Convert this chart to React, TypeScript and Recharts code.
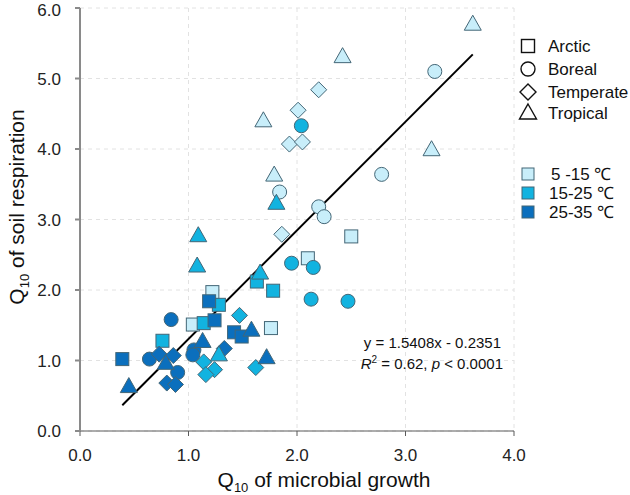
import React from 'react';
import { ScatterChart, Scatter, XAxis, YAxis, CartesianGrid, ReferenceLine } from 'recharts';

type Band = 'low' | 'mid' | 'high';
interface Pt { x: number; y: number; t: Band }

// temperature bands
const bandLabels = ['5 -15 ℃', '15-25 ℃', '25-35 ℃'];
const bandKeys: Band[] = ['low', 'mid', 'high'];
const bandColors: Record<Band, string> = { low: '#c8eefa', mid: '#12b3e0', high: '#0b6fbd' };

const regionLabels = ['Arctic', 'Boreal', 'Temperate', 'Tropical'];

const arctic: Pt[] = [
  { x: 0.39, y: 1.02, t: 'high' }, { x: 0.76, y: 1.28, t: 'mid' }, { x: 1.04, y: 1.51, t: 'low' },
  { x: 1.14, y: 1.53, t: 'mid' }, { x: 1.24, y: 1.57, t: 'high' }, { x: 1.22, y: 1.97, t: 'low' },
  { x: 1.19, y: 1.84, t: 'high' }, { x: 1.28, y: 1.79, t: 'mid' }, { x: 1.42, y: 1.40, t: 'high' },
  { x: 1.49, y: 1.34, t: 'high' }, { x: 1.76, y: 1.46, t: 'low' }, { x: 1.63, y: 2.12, t: 'mid' },
  { x: 1.78, y: 1.99, t: 'mid' }, { x: 2.10, y: 2.45, t: 'low' }, { x: 2.50, y: 2.76, t: 'low' },
];

const boreal: Pt[] = [
  { x: 0.64, y: 1.02, t: 'high' }, { x: 0.84, y: 1.58, t: 'high' }, { x: 0.90, y: 0.83, t: 'high' },
  { x: 1.05, y: 1.15, t: 'high' }, { x: 1.04, y: 1.08, t: 'high' }, { x: 1.95, y: 2.38, t: 'mid' },
  { x: 2.15, y: 2.32, t: 'mid' }, { x: 2.13, y: 1.87, t: 'mid' }, { x: 2.47, y: 1.84, t: 'mid' },
  { x: 2.04, y: 4.33, t: 'mid' }, { x: 1.84, y: 3.39, t: 'low' }, { x: 2.20, y: 3.18, t: 'low' },
  { x: 2.25, y: 3.04, t: 'low' }, { x: 2.78, y: 3.64, t: 'low' }, { x: 3.27, y: 5.10, t: 'low' },
];

const temperate: Pt[] = [
  { x: 0.73, y: 1.09, t: 'high' }, { x: 0.86, y: 1.07, t: 'high' }, { x: 0.80, y: 0.68, t: 'high' },
  { x: 0.88, y: 0.66, t: 'high' }, { x: 1.33, y: 1.17, t: 'high' }, { x: 1.14, y: 0.98, t: 'mid' },
  { x: 1.24, y: 0.87, t: 'mid' }, { x: 1.16, y: 0.80, t: 'mid' }, { x: 1.47, y: 1.64, t: 'mid' },
  { x: 1.62, y: 0.90, t: 'mid' }, { x: 1.86, y: 2.79, t: 'low' }, { x: 1.93, y: 4.07, t: 'low' },
  { x: 2.05, y: 4.10, t: 'low' }, { x: 2.01, y: 4.55, t: 'low' }, { x: 2.20, y: 4.84, t: 'low' },
];

const tropical: Pt[] = [
  { x: 0.45, y: 0.63, t: 'high' }, { x: 0.79, y: 0.96, t: 'high' }, { x: 1.13, y: 1.27, t: 'high' },
  { x: 1.58, y: 1.43, t: 'high' }, { x: 1.72, y: 1.04, t: 'high' }, { x: 1.28, y: 1.08, t: 'mid' },
  { x: 1.09, y: 2.77, t: 'mid' }, { x: 1.08, y: 2.34, t: 'mid' }, { x: 1.66, y: 2.24, t: 'mid' },
  { x: 1.81, y: 3.23, t: 'mid' }, { x: 1.69, y: 4.40, t: 'low' }, { x: 1.79, y: 3.63, t: 'low' },
  { x: 2.42, y: 5.31, t: 'low' }, { x: 3.24, y: 3.99, t: 'low' }, { x: 3.62, y: 5.77, t: 'low' },
];

const xTicks = [0, 1, 2, 3, 4];
const yTicks = [0, 1, 2, 3, 4, 5, 6];

// regression y = 1.5408x - 0.2351 over the data range
const slope = 1.5408;
const intercept = -0.2351;
const fitRange = [0.39, 3.62];

type Kind = 'square' | 'circle' | 'diamond' | 'triangle';
const EDGE = '#436676';

function drawMarker(kind: Kind, cx: number, cy: number, fill: string, stroke: string, sw = 1) {
  if (kind === 'square') return <rect x={cx - 6.5} y={cy - 6.5} width={13} height={13} fill={fill} stroke={stroke} strokeWidth={sw} />;
  if (kind === 'circle') return <circle cx={cx} cy={cy} r={7} fill={fill} stroke={stroke} strokeWidth={sw} />;
  if (kind === 'diamond') return <polygon points={`${cx},${cy - 8} ${cx + 8},${cy} ${cx},${cy + 8} ${cx - 8},${cy}`} fill={fill} stroke={stroke} strokeWidth={sw} />;
  return <polygon points={`${cx},${cy - 9} ${cx + 8.5},${cy + 6} ${cx - 8.5},${cy + 6}`} fill={fill} stroke={stroke} strokeWidth={sw} />;
}

const shapeFor = (kind: Kind, fill: string) => (p: any) => (
  <g>{drawMarker(kind, p.cx, p.cy, fill, EDGE)}</g>
);

const regions: { name: string; kind: Kind; data: Pt[] }[] = [
  { name: 'Arctic', kind: 'square', data: arctic },
  { name: 'Boreal', kind: 'circle', data: boreal },
  { name: 'Temperate', kind: 'diamond', data: temperate },
  { name: 'Tropical', kind: 'triangle', data: tropical },
];

const font = '"Liberation Sans", Arial, sans-serif';

export default function App() {
  const kinds: Kind[] = ['square', 'circle', 'diamond', 'triangle'];
  const shapeRowsY = [46, 69, 92, 113];
  const bandRowsY = [174, 193, 212];
  return (
    <div style={{ position: 'absolute', left: 0, top: 0, width: 630, height: 495, background: '#fff', fontFamily: font }}>
      <ScatterChart width={630} height={495} margin={{ top: 8, right: 116, bottom: 34, left: 20 }}>
        <CartesianGrid stroke="#e2e2e2" strokeDasharray="4 4" />
        <XAxis
          type="number"
          dataKey="x"
          domain={[0, 4]}
          ticks={xTicks}
          tickFormatter={(v: number) => v.toFixed(1)}
          height={30}
          tickSize={5}
          tickMargin={13}
          stroke="#5a5a5a"
          tick={{ fill: '#222', fontSize: 17, fontFamily: font }}
        />
        <YAxis
          type="number"
          dataKey="y"
          domain={[0, 6]}
          ticks={yTicks}
          tickFormatter={(v: number) => v.toFixed(1)}
          width={60}
          tickSize={5}
          tickMargin={14}
          stroke="#8a8a8a"
          strokeWidth={2}
          tick={{ fill: '#222', fontSize: 17, fontFamily: font }}
        />
        {regions.map((r) =>
          bandKeys.map((b) => (
            <Scatter
              key={r.name + b}
              data={r.data.filter((d) => d.t === b)}
              shape={shapeFor(r.kind, bandColors[b])}
              isAnimationActive={false}
            />
          ))
        )}
        <ReferenceLine
          segment={[
            { x: fitRange[0], y: slope * fitRange[0] + intercept },
            { x: fitRange[1], y: slope * fitRange[1] + intercept },
          ]}
          stroke="#000"
          strokeWidth={2}
        />
      </ScatterChart>
      <svg width={630} height={495} style={{ position: 'absolute', left: 0, top: 0, pointerEvents: 'none' }}>
        <g fontFamily={font} fill="#111">
          <text x={324} y={487} fontSize={21} textAnchor="middle">
            Q<tspan fontSize={13} dy={5}>10</tspan><tspan dy={-5}> of microbial growth</tspan>
          </text>
          <text transform="translate(24,207) rotate(-90)" fontSize={21} textAnchor="middle">
            Q<tspan fontSize={13} dy={5}>10</tspan><tspan dy={-5}> of soil respiration</tspan>
          </text>
          <text x={501} y={348} fontSize={15} textAnchor="end">y = 1.5408x - 0.2351</text>
          <text x={503} y={369} fontSize={15} textAnchor="end">
            <tspan fontStyle="italic">R</tspan><tspan fontSize={10} dy={-6}>2</tspan><tspan dy={6}> = 0.62, </tspan>
            <tspan fontStyle="italic">p</tspan><tspan> &lt; 0.0001</tspan>
          </text>
          {regionLabels.map((l, i) => (
            <g key={l}>
              {drawMarker(kinds[i], 528, shapeRowsY[i], 'none', '#111', 1.4)}
              <text x={548} y={shapeRowsY[i] + 6} fontSize={17}>{l}</text>
            </g>
          ))}
          {bandLabels.map((l, i) => (
            <g key={l}>
              <rect x={522} y={bandRowsY[i] - 6} width={12} height={12} fill={bandColors[bandKeys[i]]} stroke={EDGE} strokeWidth={1} />
              <text x={i === 0 ? 551 : 549} y={bandRowsY[i] + 6} fontSize={17}>{l}</text>
            </g>
          ))}
        </g>
      </svg>
    </div>
  );
}
